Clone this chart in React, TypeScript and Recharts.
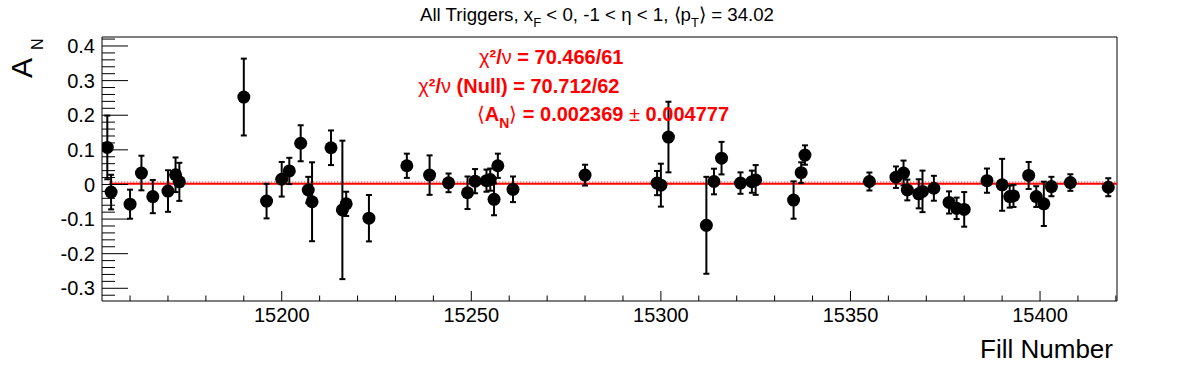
import { ScatterChart, Scatter, XAxis, YAxis, ErrorBar, ReferenceLine, ReferenceArea } from 'recharts';

// fill numbers, asymmetry and statistical errors
const FILLS = [
  15154, 15155, 15160, 15163, 15166, 15170, 15172, 15173, 15190, 15196,
  15200, 15202, 15205, 15207, 15208, 15213, 15216, 15217, 15223, 15233,
  15239, 15244, 15249, 15251, 15254, 15255, 15256, 15257, 15261, 15280,
  15299, 15300, 15302, 15312, 15314, 15316, 15321, 15324, 15325, 15335,
  15337, 15338, 15355, 15362, 15364, 15365, 15368, 15369, 15372, 15376,
  15378, 15380, 15386, 15390, 15392, 15393, 15397, 15399, 15401, 15403,
  15408, 15418,
];
const AN_VALUES = [
  0.107, -0.022, -0.057, 0.033, -0.035, -0.019, 0.028, 0.0075, 0.2525, -0.048,
  0.015, 0.039, 0.119, -0.016, -0.05, 0.106, -0.0735, -0.056, -0.0975, 0.054,
  0.027, 0.0046, -0.024, 0.0095, 0.011, 0.014, -0.043, 0.054, -0.014, 0.027,
  0.004, -0.002, 0.137, -0.118, 0.0085, 0.076, 0.004, 0.008, 0.013, -0.045,
  0.034, 0.085, 0.0085, 0.021, 0.033, -0.016, -0.027, -0.02, -0.011, -0.052,
  -0.069, -0.072, 0.011, -0.001, -0.035, -0.033, 0.026, -0.035, -0.056, -0.006,
  0.0055, -0.008,
];
const AN_ERRORS = [
  0.092, 0.05, 0.042, 0.05, 0.048, 0.06, 0.05, 0.055, 0.111, 0.05,
  0.05, 0.038, 0.052, 0.038, 0.114, 0.05, 0.2, 0.035, 0.067, 0.035,
  0.057, 0.027, 0.047, 0.035, 0.032, 0.032, 0.046, 0.035, 0.037, 0.03,
  0.035, 0.062, 0.102, 0.14, 0.037, 0.047, 0.031, 0.032, 0.043, 0.054,
  0.03, 0.028, 0.026, 0.031, 0.036, 0.03, 0.042, 0.06, 0.036, 0.032,
  0.031, 0.05, 0.035, 0.075, 0.032, 0.032, 0.039, 0.03, 0.064, 0.028,
  0.024, 0.026,
];

const FIT_MEAN = 0.002369;
const FIT_ERR = 0.004777;
const FIT_RANGE = [15154.5, 15420.3];

const X_DOMAIN: [number, number] = [15152.6, 15420.3];
const Y_DOMAIN: [number, number] = [-0.3367, 0.426];
const X_MAJOR = [15200, 15250, 15300, 15350, 15400];
const Y_MAJOR = [-0.3, -0.2, -0.1, 0, 0.1, 0.2, 0.3, 0.4];
const X_MINOR_STEP = 10;
const Y_MINOR_STEP = 0.02;

const FONT = '"Liberation Sans", Arial, Helvetica, sans-serif';

const data = FILLS.map((fill, i) => ({ fill, an: AN_VALUES[i], err: AN_ERRORS[i] }));

const xTicks: number[] = [];
for (let v = 15160; v <= X_DOMAIN[1] + 0.01; v += X_MINOR_STEP) xTicks.push(v);
const yTicks: number[] = [];
for (let k = Math.ceil(Y_DOMAIN[0] / Y_MINOR_STEP); k * Y_MINOR_STEP <= Y_DOMAIN[1]; k++) {
  yTicks.push(Math.round(k * Y_MINOR_STEP * 100) / 100);
}

const isMajor = (v: number, list: number[]) => list.some((m) => Math.abs(m - v) < 1e-6);

function XTick({ x, y, payload }: any) {
  const major = isMajor(payload.value, X_MAJOR);
  return (
    <g>
      <line x1={x} x2={x} y1={y} y2={y - (major ? 10 : 5.5)} stroke="#000" strokeWidth={1} />
      {major && (
        <text x={x} y={y + 20.7} textAnchor="middle" fontSize={20} fontFamily={FONT} fill="#000">
          {payload.value}
        </text>
      )}
    </g>
  );
}

function YTick({ x, y, payload }: any) {
  const major = isMajor(payload.value, Y_MAJOR);
  return (
    <g>
      <line x1={x} x2={x + (major ? 26 : 13)} y1={y} y2={y} stroke="#000" strokeWidth={1} />
      {major && (
        <text x={x - 7} y={y + 7.2} textAnchor="end" fontSize={20} fontFamily={FONT} fill="#000">
          {Number(payload.value.toFixed(1))}
        </text>
      )}
    </g>
  );
}

const Marker = (props: any) => <circle cx={props.cx} cy={props.cy} r={6.5} fill="#000" />;

export default function App() {
  return (
    <div style={{ position: 'absolute', left: 0, top: 0, width: 1196, height: 372, background: '#fff' }}>
      <ScatterChart width={1196} height={372} margin={{ top: 37, right: 79, bottom: 20, left: 0 }}>
        <XAxis
          type="number"
          dataKey="fill"
          domain={X_DOMAIN}
          allowDataOverflow
          ticks={xTicks}
          interval={0}
          tick={<XTick />}
          tickLine={false}
          axisLine={false}
          tickSize={0}
          tickMargin={0}
          height={51}
        />
        <YAxis
          type="number"
          dataKey="an"
          domain={Y_DOMAIN}
          allowDataOverflow
          ticks={yTicks}
          interval={0}
          tick={<YTick />}
          tickLine={false}
          axisLine={false}
          tickSize={0}
          tickMargin={0}
          width={102}
        />
        <ReferenceArea
          x1={X_DOMAIN[0]}
          x2={X_DOMAIN[1]}
          y1={Y_DOMAIN[0]}
          y2={Y_DOMAIN[1]}
          fill="none"
          fillOpacity={0}
          stroke="#000"
          strokeWidth={1}
          ifOverflow="visible"
        />
        <ReferenceLine
          segment={[{ x: FIT_RANGE[0], y: FIT_MEAN }, { x: FIT_RANGE[1], y: FIT_MEAN }]}
          stroke="#ff0000"
          strokeWidth={2}
        />
        <ReferenceLine
          segment={[{ x: FIT_RANGE[0], y: FIT_MEAN + FIT_ERR }, { x: FIT_RANGE[1], y: FIT_MEAN + FIT_ERR }]}
          stroke="#ff0000"
          strokeWidth={1}
          strokeDasharray="1 2"
        />
        <Scatter data={data} shape={Marker} isAnimationActive={false}>
          <ErrorBar dataKey="err" direction="y" width={3} strokeWidth={2} stroke="#000" />
        </Scatter>
      </ScatterChart>
      <svg
        width={1196}
        height={372}
        style={{ position: 'absolute', left: 0, top: 0, pointerEvents: 'none' }}
        fontFamily={FONT}
      >
        <text x={597} y={20.7} textAnchor="middle" fontSize={18.7} fill="#000">
          All Triggers, x<tspan fontSize={13} dy={6}>F</tspan>
          <tspan dy={-6}> &lt; 0, -1 &lt; η &lt; 1, ⟨p</tspan>
          <tspan fontSize={13} dy={6}>T</tspan>
          <tspan dy={-6}>⟩ = 34.02</tspan>
        </text>
        <g fill="#ff0000" fontSize={20} fontWeight="bold">
          <text x={479} y={63.5}>
            <tspan fontWeight="normal">χ</tspan>²/<tspan fontWeight="normal">ν</tspan> = 70.466/61
          </text>
          <text x={418.3} y={93}>
            <tspan fontWeight="normal">χ</tspan>²/<tspan fontWeight="normal">ν</tspan> (Null) = 70.712/62
          </text>
          <text x={476.7} y={121}>
            <tspan fontWeight="normal">⟨</tspan>A<tspan fontSize={14} dy={7}>N</tspan>
            <tspan fontWeight="normal" dy={-7}>⟩</tspan> = 0.002369 <tspan fontWeight="normal">±</tspan> 0.004777
          </text>
        </g>
        <g transform="translate(31.7 78) rotate(-90)">
          <text x={0} y={0} fontSize={30} fill="#000">
            A<tspan fontSize={16} dy={11} dx={8}>N</tspan>
          </text>
        </g>
        <text x={1113} y={358} textAnchor="end" fontSize={26} fill="#000">
          Fill Number
        </text>
      </svg>
    </div>
  );
}
